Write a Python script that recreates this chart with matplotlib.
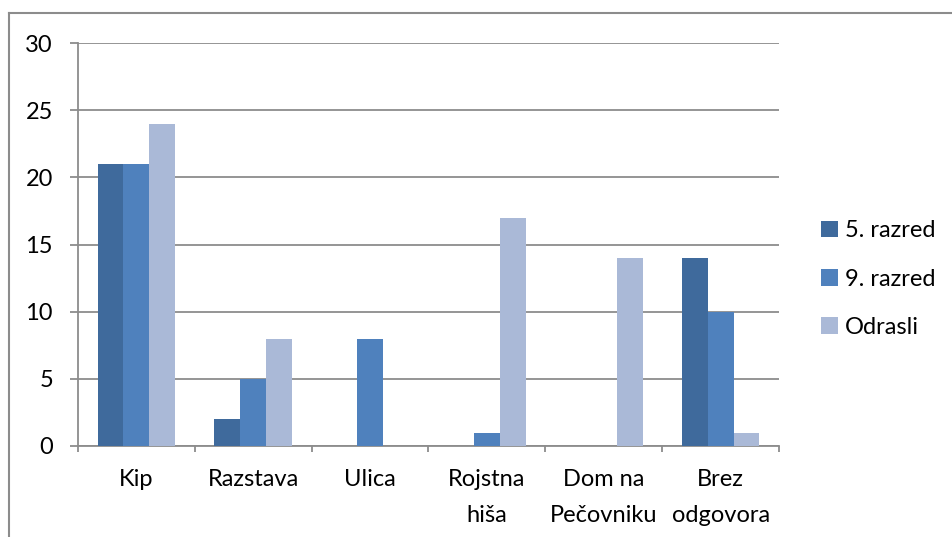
import matplotlib.pyplot as plt
import numpy as np
from matplotlib.lines import Line2D

categories = ['Kip', 'Razstava', 'Ulica', 'Rojstna\nhiša', 'Dom na\nPečovniku', 'Brez\nodgovora']
razred5 = [21, 2, 0, 0, 0, 14]
razred9 = [21, 5, 8, 1, 0, 10]
odrasli = [24, 8, 0, 17, 14, 1]
series_names = ['5. razred', '9. razred', 'Odrasli']
colors = ['#3F6A9C', '#4F81BD', '#AAB9D7']

plt.rcParams['font.family'] = ['Lato', 'DejaVu Sans']

fig = plt.figure(figsize=(9.53, 5.37), dpi=100)
ax = fig.add_axes([78 / 953, 1 - 446 / 537, 701 / 953, 403 / 537])

x = np.arange(len(categories))
w = 0.222
for i, (vals, name, c) in enumerate(zip([razred5, razred9, odrasli], series_names, colors)):
    ax.bar(x + (i - 1) * w, vals, width=w, color=c, label=name, zorder=3, linewidth=0)

ax.set_xlim(-0.5, len(categories) - 0.5)
ax.set_ylim(0, 30)
ax.set_yticks(range(0, 31, 5))
ax.yaxis.grid(True, color='#8C8C8C', linewidth=1.3, zorder=0)
ax.set_axisbelow(True)

ax.set_xticks(np.arange(-0.5, len(categories), 1), minor=False)
ax.set_xticklabels([])
ax.set_xticks(x, minor=True)
ax.set_xticklabels(categories, minor=True, fontsize=17, linespacing=1.9)
ax.tick_params(axis='x', which='major', length=4.5, width=1.3, color='#8C8C8C')
ax.tick_params(axis='x', which='minor', length=0, pad=16.5)
ax.tick_params(axis='y', length=6, width=1.3, color='#8C8C8C', labelsize=17, pad=12)

for s in ['top', 'right']:
    ax.spines[s].set_visible(False)
for s in ['left', 'bottom']:
    ax.spines[s].set_color('#8C8C8C')
    ax.spines[s].set_linewidth(1.3)

fig.legend(loc='center left', bbox_to_anchor=(821 / 953, 1 - 279 / 537), frameon=False,
           fontsize=17, handlelength=0.7, handleheight=0.7,
           handletextpad=0.3, labelspacing=1.15, borderaxespad=0, borderpad=0)

# outer chart border (top and left edges visible)
fig.add_artist(Line2D([9 / 953, 9 / 953], [0, 1 - 13 / 537], transform=fig.transFigure,
                      color='#8C8C8C', linewidth=1.5))
fig.add_artist(Line2D([9 / 953, 1], [1 - 13 / 537, 1 - 13 / 537], transform=fig.transFigure,
                      color='#8C8C8C', linewidth=1.5))

fig.savefig('out.png', dpi=100)
